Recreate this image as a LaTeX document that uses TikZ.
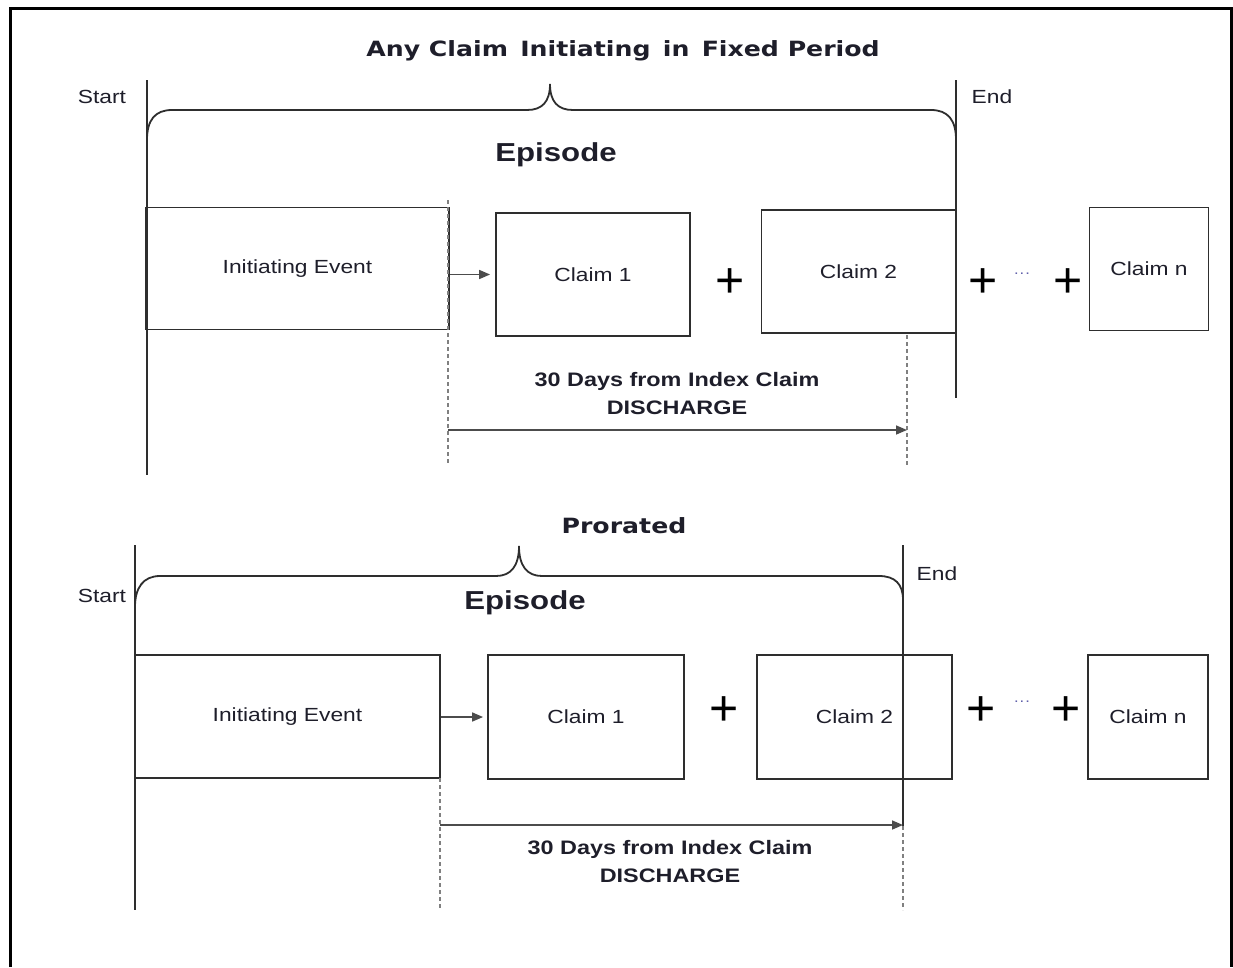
\documentclass[tikz,border=0pt]{standalone}
\usepackage{fontspec}
\setmainfont[FakeStretch=1.2]{Liberation Sans}
\newfontfamily\headfont[FakeStretch=1.2]{DejaVu Sans}
\newfontfamily\plusfont{Liberation Sans}
\usepackage{xcolor}
\usetikzlibrary{arrows.meta,positioning}
\definecolor{inkline}{HTML}{2E2E2E}
\definecolor{inktext}{HTML}{1E1E2A}
\tikzset{
    event/.style={
        rectangle, draw=inkline, line width=1.8pt, inner sep=0pt,
        minimum width=303pt, minimum height=122pt,
        text=inktext, font=\fontsize{19}{19}\selectfont
    },
    claim/.style={
        rectangle, draw=inkline, line width=1.8pt, inner sep=0pt,
        minimum width=194pt, minimum height=123pt,
        text=inktext, font=\fontsize{19}{19}\selectfont
    },
    lastclaim/.style={claim, minimum width=119pt},
    plus/.style={inner sep=0pt, font=\plusfont\fontsize{50}{50}\selectfont},
    dots/.style={inner sep=0pt, text=gray!70!blue, font=\fontsize{14}{14}\selectfont},
    heading/.style={font=\headfont\bfseries\fontsize{21}{21}\selectfont, text=inktext},
    episode/.style={font=\bfseries\fontsize{26}{26}\selectfont, text=inktext},
    marker/.style={font=\fontsize{19}{19}\selectfont, text=inktext},
    window/.style={align=center, font=\bfseries\fontsize{19.5}{28}\selectfont, text=inktext},
    timeline/.style={draw=inkline, line width=1.8pt},
    brace/.style={draw=inkline, line width=1.8pt},
    guide/.style={draw=gray, line width=1.6pt, dash pattern=on 4pt off 3pt},
    arrow/.style={-{Triangle[length=11pt,width=9pt]}, draw=black!70, line width=1.6pt}
}

\begin{document}
\begin{tikzpicture}[x=1pt,y=-1pt]
\useasboundingbox (0,0) rectangle (1233,967);

% frame
\draw[line width=3pt] (10,967) -- (10,8) -- (1231,8) -- (1231,967);

% ---- Fixed period (top) ----
\node[heading] (head1) at (623,51) {Any Claim\, Initiating\, in\, Fixed Period};
\node[marker] (start1) at (102,97) {Start};
\node[marker] (end1) at (992,97) {End};

\coordinate (s1top) at (147,80);
\coordinate (s1bot) at (147,475);
\coordinate (e1top) at (956,80);
\coordinate (e1bot) at (956,398);
\draw[timeline] (s1top) -- (s1bot);
\draw[timeline] (e1top) -- (e1bot);

\draw[brace] (147,140) .. controls (147,120) and (155,110) .. (172,110)
    -- (527,110) .. controls (542,110) and (550,102) .. (550,84)
    .. controls (550,102) and (558,110) .. (573,110)
    -- (931,110) .. controls (948,110) and (956,120) .. (956,140);
\node[episode] (epi1) at (556,155) {Episode};

\node[event] (ev1) at (297.5,268.5) {Initiating Event};
\node[claim] (c11) at (593,274.5) {Claim 1};
\node[claim] (c12) at (858.5,271.5) {Claim 2};
\node[lastclaim] (c1n) at (1149,269) {Claim n};

\node[plus] (p11) at (730,283) {+};
\node[plus] (p12) at (983,283) {+};
\node[dots] (dt1) at (1022,275) {···};
\node[plus] (p13) at (1068,283) {+};

\draw[arrow] (ev1.east |- c11.west) -- ([xshift=-5pt]c11.west);

\coordinate (g1top) at (448,200);
\coordinate (g1bot) at (448,465);
\coordinate (g2top) at (907,335);
\coordinate (g2bot) at (907,465);
\draw[guide] (g1top) -- (g1bot);
\draw[guide] (g2top) -- (g2bot);

\node[window] (win1) at (677,394) {30 Days from Index Claim\\DISCHARGE};
\coordinate (w1a) at (448,430);
\coordinate (w1b) at (907,430);
\draw[arrow] (w1a) -- (w1b);

% ---- Prorated (bottom) ----
\node[heading] (head2) at (624,526) {Prorated};
\node[marker] (start2) at (102,596) {Start};
\node[marker] (end2) at (937,574) {End};

\coordinate (s2top) at (135,545);
\coordinate (s2bot) at (135,910);
\coordinate (e2top) at (903,545);
\coordinate (e2mid) at (903,826);
\coordinate (e2bot) at (903,910);
\draw[timeline] (s2top) -- (s2bot);
\draw[timeline] (e2top) -- (e2mid);
\draw[guide] (e2mid) -- (e2bot);

\draw[brace] (135,607) .. controls (135,588) and (143,576) .. (160,576)
    -- (496,576) .. controls (511,576) and (519,566) .. (519,546)
    .. controls (519,566) and (527,576) .. (542,576)
    -- (879,576) .. controls (895,576) and (903,584) .. (903,600);
\node[episode] (epi2) at (525,603) {Episode};

\node[event, minimum width=305pt, minimum height=123pt] (ev2) at (287.5,716.5) {Initiating Event};
\node[claim, minimum width=196pt, minimum height=124pt] (c21) at (586,717) {Claim 1};
\node[claim, minimum width=195pt, minimum height=124pt] (c22) at (854.5,717) {Claim 2};
\node[lastclaim, minimum width=120pt, minimum height=124pt] (c2n) at (1148,717) {Claim n};

\node[plus] (p21) at (724,711) {+};
\node[plus] (p22) at (981,711) {+};
\node[dots] (dt2) at (1022,703) {···};
\node[plus] (p23) at (1066,711) {+};

\draw[arrow] (ev2.east |- c21.west) -- ([xshift=-4pt]c21.west);

\coordinate (g3top) at (440,778);
\coordinate (g3bot) at (440,910);
\draw[guide] (g3top) -- (g3bot);

\coordinate (w2a) at (440,825);
\coordinate (w2b) at (903,825);
\draw[arrow] (w2a) -- (w2b);
\node[window] (win2) at (670,861.5) {30 Days from Index Claim\\DISCHARGE};

\end{tikzpicture}
\end{document}
